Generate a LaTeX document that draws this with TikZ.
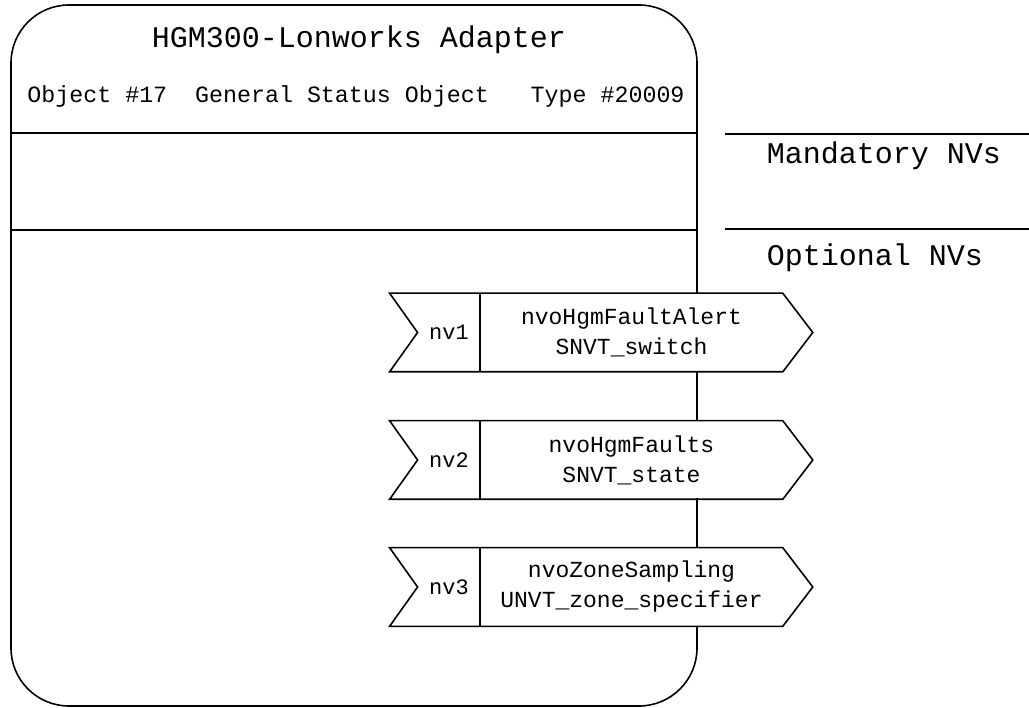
\documentclass[tikz,border=0pt]{standalone}
\usepackage{fontspec}
\setmonofont{Liberation Mono}
\usetikzlibrary{positioning}

\tikzset{
  nvtag/.style={minimum width=61pt, minimum height=77pt, inner sep=0pt,
    font=\ttfamily\fontsize{22}{26}\selectfont},
  nvname/.style={fill=white, minimum width=301pt, minimum height=77pt, inner sep=0pt,
    align=center, font=\ttfamily\fontsize{23}{30}\selectfont},
  heading/.style={inner sep=0pt, font=\ttfamily\fontsize{30}{36}\selectfont},
}

\begin{document}
\begin{tikzpicture}[x=1pt, y=-1pt, line width=1.6pt]

    \useasboundingbox (0,0) rectangle (1029,708);

    % object outline
    \draw[rounded corners=58pt] (11,5) rectangle (697,706);

    \coordinate (L1) at (11,133);  \coordinate (R1) at (697,133);
    \coordinate (L2) at (11,230);  \coordinate (R2) at (697,230);
    \draw (L1) -- (R1);
    \draw (L2) -- (R2);

    \node[heading] (title) at (359,40) {HGM300-Lonworks Adapter};
    \node[inner sep=0pt, font=\ttfamily\fontsize{23.3}{28}\selectfont] (sub) at (356,96)
        {Object \#17\ \ General Status Object\ \ \ Type \#20009};

    % side headings
    \coordinate (M1) at (725,134);  \coordinate (M2) at (1029,134);
    \coordinate (O1) at (725,229);  \coordinate (O2) at (1029,229);
    \draw (M1) -- (M2);
    \draw (O1) -- (O2);
    \node[heading, anchor=west] (mand) at (766,156) {Mandatory NVs};
    \node[heading, anchor=west] (opt) at (766,258) {Optional NVs};

    % network variables
    \foreach \i/\y/\nm/\tp in {1/332.5/nvoHgmFaultAlert/SNVT\_switch,
                               2/460/nvoHgmFaults/SNVT\_state,
                               3/587/nvoZoneSampling/UNVT\_zone\_specifier}{
        \node[nvname] (name\i) at (631.5,\y) {\nm\\\tp};
        \node[nvtag, left=0pt of name\i] (tag\i) {nv\i};
        \draw ([xshift=-28pt]tag\i.north west) -- (name\i.north east)
            -- ([xshift=30pt]name\i.east) -- (name\i.south east)
            -- ([xshift=-28pt]tag\i.south west) -- (tag\i.west) -- cycle;
        \draw (tag\i.north east) -- (tag\i.south east);
    }

\end{tikzpicture}
\end{document}
